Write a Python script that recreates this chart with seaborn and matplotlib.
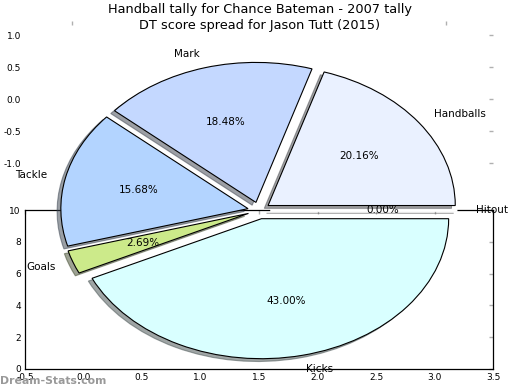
import matplotlib
matplotlib.use("Agg")
import matplotlib.pyplot as plt
import seaborn as sns

# pie data (raw counts, the chart shows them as percentages)
labels = ["Handballs", "Mark", "Tackle", "Goals", "Kicks", "Hitout"]
counts = [180, 165, 140, 24, 384, 0]
colours = ["#eaf1ff", "#c4d8ff", "#b3d4ff", "#ccea8a", "#d9ffff", "#ffffff"]

title_1 = "Handball tally for Chance Bateman - 2007 tally"
title_2 = "DT score spread for Jason Tutt (2015)"
watermark = "Dream-Stats.com"

top_yticks = [1.0, 0.5, 0.0, -0.5, -1.0]
top_xticks = [-1, 1]
bottom_xticks = [-0.5, 0.0, 0.5, 1.0, 1.5, 2.0, 2.5, 3.0, 3.5]
bottom_yticks = [0, 2, 4, 6, 8, 10]

sns.set_theme(style="white", rc={"text.color": "black"})
plt.rcParams["axes.unicode_minus"] = False
plt.rcParams["font.family"] = ["DejaVu Sans"]

W, H = 520, 390


def px_rect(left, top, right, bottom):
    # figure pixel box -> figure fraction rect
    return [left / W, 1 - bottom / H, (right - left) / W, (bottom - top) / H]


fig = plt.figure(figsize=(W / 100, H / 100), dpi=100)

tick_grey = "#b0b0b0"

# lower plot area with a frame
ax_bot = fig.add_axes(px_rect(25, 210, 493, 369))
ax_bot.set_xlim(-0.5, 3.5)
ax_bot.set_ylim(0, 10)
ax_bot.set_xticks(bottom_xticks)
ax_bot.set_yticks(bottom_yticks)
ax_bot.tick_params(direction="in", length=3, width=1, color=tick_grey, labelcolor="black",
                   labelsize=6.5, top=True, right=True, pad=3)
for sp in ax_bot.spines.values():
    sp.set_color("black")
    sp.set_linewidth(0.9)

# upper axes, no frame, only ticks
ax_top = fig.add_axes(px_rect(25, 21, 493, 210))
ax_top.patch.set_alpha(0)
ax_top.set_xlim(-1.25, 1.25)
ax_top.set_ylim(-1.734, 1.219)
ax_top.set_xticks(top_xticks)
ax_top.set_yticks(top_yticks)
ax_top.tick_params(direction="in", length=3, width=1, color=tick_grey, labelcolor="black",
                   labelsize=6.5, top=True, bottom=False, right=True,
                   labelbottom=False, labeltop=False, pad=3)
for sp in ax_top.spines.values():
    sp.set_visible(False)

# the pie, stretched (no equal aspect)
ax_pie = fig.add_axes(px_rect(25, 35.5, 493, 385.5))
wedges, texts, autotexts = ax_pie.pie(
    counts, labels=labels, colors=colours, explode=[0.06] * len(counts),
    shadow={"ox": -0.0144, "oy": -0.0144}, autopct="%.2f%%", startangle=0,
    wedgeprops=dict(edgecolor="black", linewidth=0.8),
    textprops=dict(fontsize=7.5, color="black"))
for w, c in zip(wedges, counts):
    if c == 0:
        w.set_edgecolor("white")
        w.set_linewidth(2)
ax_pie.set_aspect("auto")
ax_pie.set_xlim(-1.25, 1.25)
ax_pie.set_ylim(-1.25, 1.25)
ax_pie.axis("off")

fig.text(0.5, 1 - 10 / H, title_1, ha="center", va="center", fontsize=9.3)
fig.text(0.5, 1 - 25 / H, title_2, ha="center", va="center", fontsize=9.3)
fig.text(0.0, 1 - 381 / H, watermark, ha="left", va="center", fontsize=7.8,
         fontweight="bold", color="#999999")

fig.savefig("out.png", dpi=100)
